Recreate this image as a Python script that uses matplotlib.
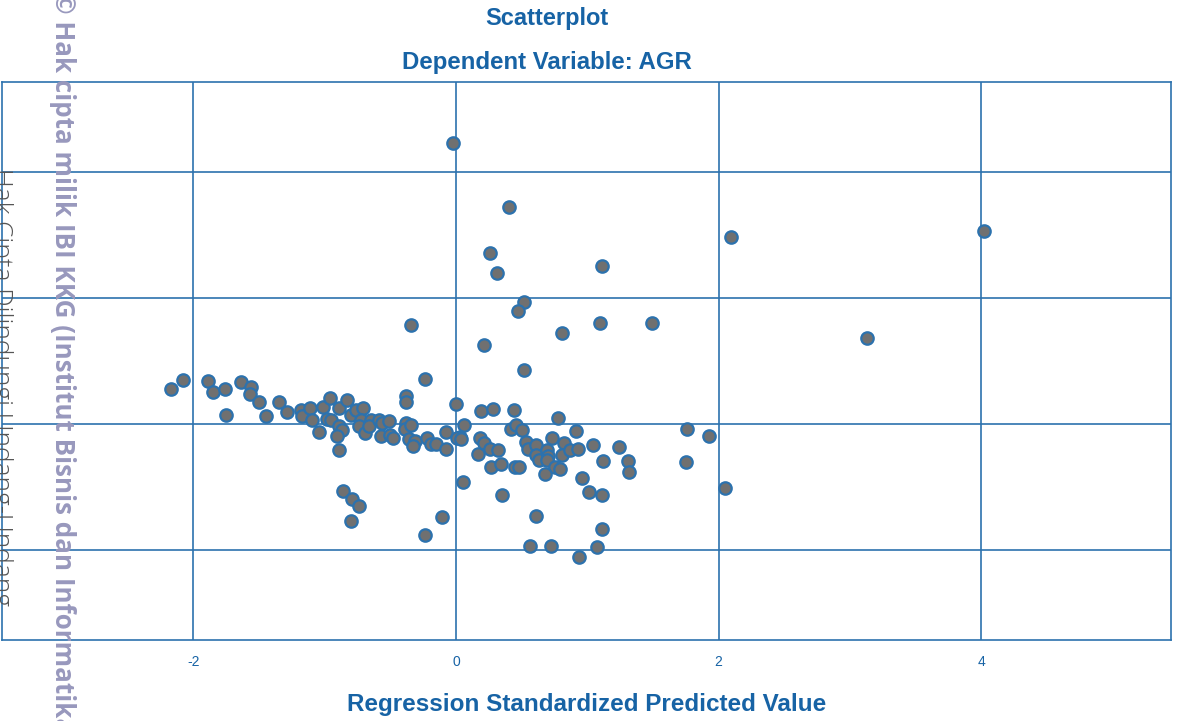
import matplotlib
matplotlib.use("Agg")
import matplotlib.pyplot as plt

plt.rcParams["axes.unicode_minus"] = False

# standardized predicted value (x) and standardized residual (y)
pred = [-0.02, 0.40, 2.09, 4.02, 0.26, 1.11, 0.31, 0.52, 0.47, -0.34, 1.10, 1.49, 0.81, 3.13, 0.21, 0.52, -0.24,
        -2.17, -2.08, -1.89, -1.85, -1.76, -1.75, -1.64, -1.56, -1.57, -1.50, -1.45, -1.35, -1.29, -1.18, -1.17,
        -1.11, -1.10, -1.04, -1.01, -0.96, -0.98, -0.95, -0.89, -0.89, -0.87, -0.91, -0.89, -0.83, -0.80, -0.76,
        -0.71, -0.72, -0.74, -0.69, -0.65, -0.66, -0.59, -0.56, -0.51, -0.57, -0.50, -0.48, -0.38, -0.38, -0.38,
        -0.39, -0.34, -0.36, -0.31, -0.33, -0.22, -0.19, -0.15, -0.08, -0.08, -0.86, -0.79, -0.74, -0.80, -0.11,
        -0.24,
        0.00, 0.19, 0.28, 0.44, 0.78, 0.06, 0.03, 0.01, 0.04, 0.17, 0.18, 0.21, 0.26, 0.32, 0.27, 0.34, 0.42, 0.46,
        0.50, 0.53, 0.55, 0.61, 0.61, 0.63, 0.69, 0.70, 0.69, 0.73, 0.75, 0.79, 0.68, 0.82, 0.81, 0.87, 0.93, 0.91,
        1.04, 1.12, 1.24, 1.31, 1.32, 0.45, 0.48, 0.96, 1.01, 1.11, 1.76, 1.93, 1.75, 2.05, 0.05, 0.35, 0.61, 1.11,
        0.56, 0.72, 1.07, 0.94]
resid = [4.46, 3.44, 2.97, 3.06, 2.71, 2.51, 2.40, 1.94, 1.79, 1.57, 1.60, 1.60, 1.44, 1.37, 1.25, 0.86, 0.71,
         0.56, 0.70, 0.69, 0.50, 0.55, 0.14, 0.67, 0.58, 0.48, 0.35, 0.13, 0.35, 0.19, 0.22, 0.12,
         0.25, 0.07, -0.12, 0.27, 0.42, 0.08, 0.06, 0.25, -0.04, -0.10, -0.19, -0.42, 0.38, 0.14, 0.22,
         0.25, 0.06, -0.04, -0.15, 0.06, -0.04, 0.06, 0.01, 0.05, -0.19, -0.18, -0.22, 0.44, 0.35, 0.02,
         -0.08, -0.02, -0.24, -0.27, -0.35, -0.23, -0.31, -0.32, -0.12, -0.39, -1.06, -1.19, -1.31, -1.54, -1.48,
         -1.77,
         0.31, 0.20, 0.24, 0.22, 0.09, -0.01, -0.20, -0.23, -0.24, -0.48, -0.22, -0.30, -0.40, -0.41, -0.69, -0.64,
         -0.08, -0.02, -0.10, -0.28, -0.40, -0.33, -0.49, -0.57, -0.41, -0.51, -0.57, -0.22, -0.68, -0.72, -0.80,
         -0.30, -0.49, -0.41, -0.40, -0.11, -0.33, -0.58, -0.37, -0.59, -0.77, -0.68, -0.68, -0.85, -1.08, -1.12,
         -0.08, -0.19, -0.61, -1.02, -0.92, -1.13, -1.46, -1.67, -1.93, -1.94, -1.96, -2.12]

blue = "#1763a5"
line_blue = "#2c72ae"

fig = plt.figure(figsize=(11.79, 7.21), dpi=100)
ax = fig.add_axes([2 / 1179, 1 - 640 / 721, 1169 / 1179, 558 / 721])

ax.scatter(pred, resid, s=80, color="#707070", edgecolors=line_blue, linewidths=1.6, zorder=3)

ax.set_xlim(-3.457, 5.444)
ax.set_ylim(-3.43, 5.43)
ax.set_xticks([-2, 0, 2, 4])
ax.set_yticks([-2, 0, 2, 4])
ax.set_axisbelow(True)
ax.grid(True, color=line_blue, linewidth=1.2)
for s in ax.spines.values():
    s.set_color(line_blue)
    s.set_linewidth(1.2)
ax.tick_params(length=0, labelleft=False, pad=11, labelsize=10, labelcolor=blue)
for t in ax.get_xticklabels():
    t.set_family("Liberation Sans")

fig.text(547 / 1179, 1 - 19 / 721, "Scatterplot", ha="center", va="center",
         fontsize=17, fontweight="bold", color=blue, family="Liberation Sans")
fig.text(547 / 1179, 1 - 63 / 721, "Dependent Variable: AGR", ha="center", va="center",
         fontsize=17.3, fontweight="bold", color=blue, family="Liberation Sans")
fig.text(587 / 1179, 1 - 704 / 721, "Regression Standardized Predicted Value", ha="center", va="center",
         fontsize=17.5, fontweight="bold", color=blue, family="Liberation Sans")

# watermarks (cut off at the edges, as in the source image)
fig.text(62 / 1179, 1 + 8 / 721, "\u00a9 Hak cipta milik IBI KKG (Institut Bisnis dan Informatika Kwik Kian Gie)",
         rotation=-90, ha="center", va="top", fontsize=18.7, fontweight="bold", color="#9898bd",
         family="Open Sans")
fig.text(0 / 1179, 1 - 168 / 721, "Hak Cipta Dilindungi Undang-Undang",
         rotation=-90, ha="center", va="top", fontsize=18.8, fontweight="light", color="#555555",
         family="Open Sans")

fig.savefig("out.png", dpi=100)
